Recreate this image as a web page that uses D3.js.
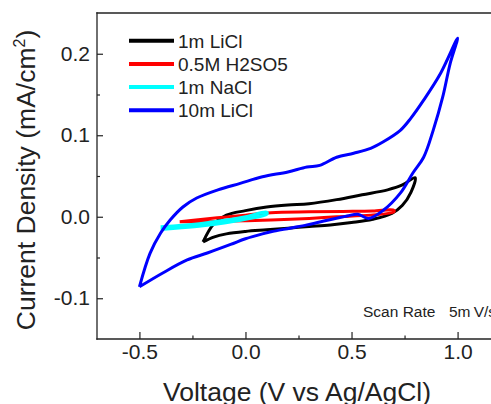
<!DOCTYPE html>
<html lang="en">
<head>
<meta charset="utf-8">
<title>CV curves</title>
<script src="https://d3js.org/d3.v7.min.js"></script>
<style type="text/css">
  body { margin: 0; background: #fff; overflow: hidden; }
  svg { display: block; font-family: "Liberation Sans", Arial, sans-serif; }
</style>
</head>
<body>
<div id="graph"></div>
<script type="text/javascript">

// series, [voltage, current density]
var licl1m = [[-0.20,-0.031],[-0.15,-0.009],[-0.09,0.002],[0.0,0.0075],[0.1,0.012],[0.2,0.0145],[0.3,0.016],[0.43,0.021],[0.55,0.027],[0.67,0.033],[0.74,0.039],[0.80,0.048],
              [0.78,0.030],[0.74,0.014],[0.69,0.004],[0.6,-0.003],[0.5,-0.007],[0.4,-0.010],[0.3,-0.012],[0.2,-0.014],[0.1,-0.016],[0.0,-0.018],[-0.09,-0.021],[-0.15,-0.025],[-0.20,-0.031]];
var h2so5 = [[-0.31,-0.006],[-0.2,-0.003],[-0.1,-0.0005],[0.0,0.002],[0.12,0.005],[0.3,0.006],[0.46,0.0065],[0.6,0.007],[0.70,0.008],
             [0.70,0.006],[0.59,0.002],[0.43,0.0],[0.3,-0.002],[0.12,-0.004],[0.0,-0.005],[-0.1,-0.0055],[-0.2,-0.006],[-0.31,-0.006]];
var nacl1m = [[-0.40,-0.0125],[-0.3,-0.0105],[-0.2,-0.008],[-0.1,-0.0045],[0.0,0.0],[0.1,0.0055],
              [0.1,0.003],[0.0,-0.003],[-0.1,-0.0075],[-0.2,-0.011],[-0.3,-0.0135],[-0.40,-0.0155]];
var licl10m = [[-0.50,-0.086],[-0.45,-0.045],[-0.40,-0.020],[-0.355,-0.004],[-0.295,0.012],[-0.23,0.023],[-0.13,0.033],[-0.025,0.041],[0.08,0.049],[0.20,0.055],[0.29,0.061],[0.35,0.063],[0.43,0.073],[0.51,0.078],[0.59,0.084],[0.65,0.092],[0.73,0.106],[0.78,0.121],[0.84,0.143],[0.92,0.176],[1.00,0.219],
               [0.965,0.188],[0.93,0.147],[0.885,0.106],[0.84,0.073],[0.79,0.054],[0.73,0.029],[0.65,0.008],[0.58,-0.002],[0.53,0.003],[0.48,0.001],[0.35,-0.0065],[0.29,-0.010],[0.21,-0.014],[0.12,-0.0185],[0.08,-0.021],[0.0,-0.027],[-0.07,-0.034],[-0.18,-0.0445],[-0.275,-0.053],[-0.39,-0.069],[-0.50,-0.086]];

var seriesNames = ["1m LiCl", "0.5M H2SO5", "1m NaCl", "10m LiCl"];
var seriesColors = ["#000000", "#ff0000", "#00ffff", "#0000ff"];

var xMajor = [-0.5, 0.0, 0.5, 1.0];
var xMinor = [-0.25, 0.25, 0.75];
var yMajor = [-0.1, 0.0, 0.1, 0.2];
var yMinor = [-0.05, 0.05, 0.15];

var width = 491, height = 404;
var margin = {top: 13, right: -9, bottom: 65, left: 97};

var svg = d3.select("#graph")
            .append("svg")
            .attr("width", width)
            .attr("height", height);

var x = d3.scaleLinear()
          .domain([-0.7, 1.2])
          .range([margin.left, width - margin.right]);

var y = d3.scaleLinear()
          .domain([-0.15, 0.25])
          .range([height - margin.bottom, margin.top]);

// curves
var line = d3.line()
             .x(function(d) { return x(d[0]); })
             .y(function(d) { return y(d[1]); })
             .curve(d3.curveCatmullRom);

var allSeries = [licl1m, h2so5, nacl1m, licl10m];
var widths = [3, 3, 3.2, 3];

svg.append("g")
   .selectAll("path")
   .data(allSeries)
   .enter().append("path")
   .attr("d", line)
   .attr("fill", "none")
   .attr("stroke", function(d, i) { return seriesColors[i]; })
   .attr("stroke-width", function(d, i) { return widths[i]; })
   .attr("stroke-linejoin", "round");

// axes, ticks point inward
var fmt = function(d) { return d.toFixed(1); };

svg.append("g")
   .attr("transform", "translate(0," + y.range()[0] + ")")
   .call(d3.axisBottom(x).tickValues(xMajor).tickSize(-7).tickPadding(5).tickFormat(fmt));
svg.append("g")
   .attr("transform", "translate(0," + y.range()[0] + ")")
   .call(d3.axisBottom(x).tickValues(xMinor).tickSize(-3.5).tickFormat(""));

svg.append("g")
   .attr("transform", "translate(" + x.range()[0] + ",0)")
   .call(d3.axisLeft(y).tickValues(yMajor).tickSize(-6).tickPadding(7).tickFormat(fmt));
svg.append("g")
   .attr("transform", "translate(" + x.range()[0] + ",0)")
   .call(d3.axisLeft(y).tickValues(yMinor).tickSize(-3).tickFormat(""));

svg.selectAll(".domain").remove();
svg.selectAll(".tick line").attr("stroke", "#222").attr("stroke-width", 1.2);
svg.selectAll(".tick text").attr("font-size", "21px").attr("fill", "#222")
   .attr("font-family", "'Liberation Sans', Arial, sans-serif");

// frame: left, top and bottom lines (right side lies past the picture)
var frame = [
  [x.range()[0], y.range()[1], x.range()[0], y.range()[0]],
  [x.range()[0], y.range()[1], width, y.range()[1]],
  [x.range()[0], y.range()[0], width, y.range()[0]]
];
svg.append("g").selectAll("line")
   .data(frame)
   .enter().append("line")
   .attr("x1", function(d) { return d[0]; })
   .attr("y1", function(d) { return d[1]; })
   .attr("x2", function(d) { return d[2]; })
   .attr("y2", function(d) { return d[3]; })
   .attr("stroke", "#222")
   .attr("stroke-width", 1.3)
   .attr("stroke-linecap", "square");

// axis titles
svg.append("text")
   .attr("x", 297)
   .attr("y", 401)
   .attr("text-anchor", "middle")
   .attr("font-size", "26.5px")
   .attr("fill", "#222")
   .text("Voltage (V vs Ag/AgCl)");

var yt = svg.append("text")
   .attr("transform", "translate(35,180) rotate(-90)")
   .attr("text-anchor", "middle")
   .attr("font-size", "26.5px")
   .attr("fill", "#222");
yt.append("tspan").text("Current Density (mA/cm");
yt.append("tspan").attr("font-size", "16px").attr("dy", "-10").text("2");
yt.append("tspan").attr("dy", "10").text(")");

// legend
var legend = svg.append("g").selectAll("g")
   .data(seriesNames)
   .enter().append("g")
   .attr("transform", function(d, i) { return "translate(129," + (40.7 + i * 23.2) + ")"; });
legend.append("line")
   .attr("x1", 0).attr("x2", 45)
   .attr("stroke", function(d, i) { return seriesColors[i]; })
   .attr("stroke-width", 4);
legend.append("text")
   .attr("x", 49)
   .attr("dy", "0.36em")
   .attr("font-size", "19px")
   .attr("fill", "#222")
   .text(function(d) { return d; });

// annotation
var note = svg.append("text")
   .attr("y", 317)
   .attr("font-size", "15.5px")
   .attr("fill", "#222");
note.append("tspan").attr("x", 363).text("Scan Rate");
note.append("tspan").attr("x", 449).text("5m\u2009V/s");

</script>
</body>
</html>
